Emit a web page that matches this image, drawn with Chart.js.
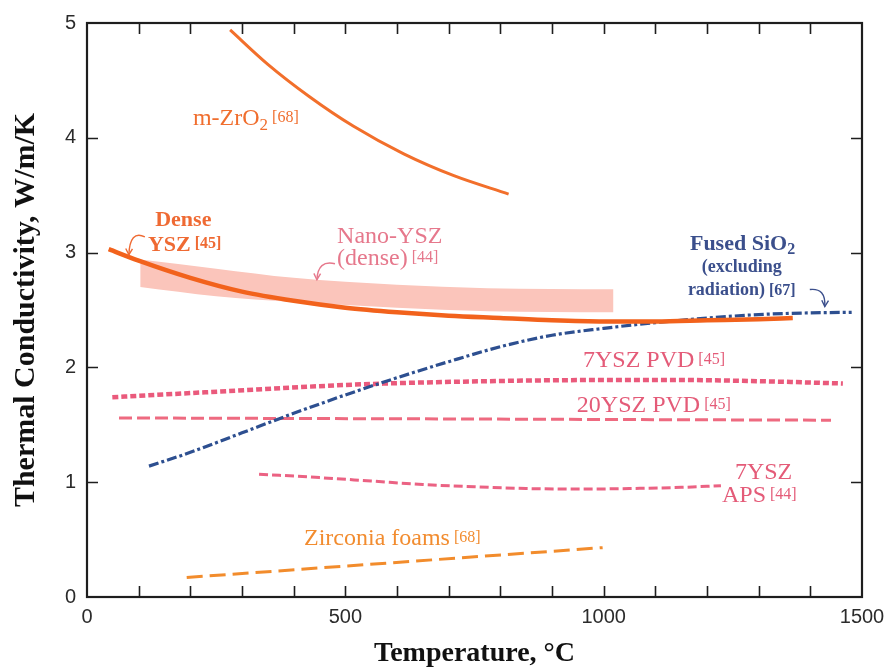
<!DOCTYPE html>
<html>
<head>
<meta charset="utf-8">
<script src="https://cdn.jsdelivr.net/npm/chart.js@4.4.0/dist/chart.umd.min.js"></script>
<style>
  html, body { margin: 0; padding: 0; background: #fff; }
</style>
</head>
<body>
<canvas id="kChart" width="893" height="671"></canvas>
<script>
// Temperature (°C) / thermal conductivity (W/m/K) per material
const mZrO2T = [277, 350, 430, 516, 613, 710, 816];
const mZrO2K = [4.94, 4.64, 4.36, 4.10, 3.86, 3.67, 3.51];

const denseYszT = [42, 100, 200, 300, 400, 500, 600, 700, 800, 900, 1000, 1100, 1200, 1300, 1366];
const denseYszK = [3.03, 2.93, 2.78, 2.66, 2.58, 2.52, 2.48, 2.45, 2.43, 2.41, 2.40, 2.40, 2.41, 2.42, 2.43];

const nanoYszT = [103, 250, 400, 600, 775, 1019];
const nanoYszHi = [2.94, 2.86, 2.78, 2.72, 2.69, 2.68];
const nanoYszLo = [2.70, 2.62, 2.57, 2.52, 2.49, 2.48];

const sio2T = [120, 200, 300, 400, 500, 600, 700, 800, 900, 1000, 1100, 1200, 1300, 1400, 1480];
const sio2K = [1.14, 1.26, 1.43, 1.60, 1.76, 1.91, 2.05, 2.18, 2.28, 2.34, 2.39, 2.43, 2.46, 2.475, 2.48];

const pvd7T = [49, 258, 517, 775, 1000, 1150, 1300, 1463];
const pvd7K = [1.74, 1.79, 1.85, 1.88, 1.89, 1.89, 1.88, 1.86];

const pvd20T = [62, 400, 775, 1100, 1440];
const pvd20K = [1.56, 1.555, 1.55, 1.545, 1.54];

const apsT = [333, 450, 550, 650, 750, 850, 950, 1050, 1150, 1227];
const apsK = [1.07, 1.04, 1.01, 0.98, 0.96, 0.945, 0.94, 0.945, 0.955, 0.97];

const foamT = [193, 998];
const foamK = [0.17, 0.43];

// axis ranges and tick spacing
const tempRange = [0, 1500];
const kRange = [0, 5];
const tempLabelStep = 500;
const tempTickStep = 100;
const kTickStep = 1;

const pts = (xs, ys) => xs.map((t, i) => ({ x: t, y: ys[i] }));

const SERIF = '"Liberation Serif", "Times New Roman", serif';
const SANS = '"Liberation Sans", Arial, sans-serif';

// box frame with inward ticks on all four sides
const frameTicks = {
  id: 'frameTicks',
  afterDraw(chart) {
    const { ctx, chartArea: a, scales: { x, y } } = chart;
    ctx.save();
    ctx.strokeStyle = '#1e1e1e';
    ctx.lineWidth = 1.6;
    ctx.beginPath();
    for (let t = tempRange[0] + tempTickStep; t < tempRange[1]; t += tempTickStep) {
      const px = Math.round(x.getPixelForValue(t)) + 0.5;
      ctx.moveTo(px, a.bottom); ctx.lineTo(px, a.bottom - 11);
      ctx.moveTo(px, a.top); ctx.lineTo(px, a.top + 11);
    }
    for (let k = kRange[0] + kTickStep; k < kRange[1]; k += kTickStep) {
      const py = Math.round(y.getPixelForValue(k)) + 0.5;
      ctx.moveTo(a.left, py); ctx.lineTo(a.left + 11, py);
      ctx.moveTo(a.right, py); ctx.lineTo(a.right - 11, py);
    }
    ctx.stroke();
    ctx.lineWidth = 2.2;
    ctx.strokeRect(a.left, a.top, a.right - a.left, a.bottom - a.top);
    ctx.restore();
  }
};

// text runs: main text, subscripts and bracketed references
const f = (size, bold) => (bold ? 'bold ' : '') + size + 'px ' + SERIF;
const notes = [
  { x: 205, y: 4.11, color: '#f06e2e', runs: [
    { t: 'm-ZrO', font: f(24) }, { t: '2', font: f(17), dy: 5 }, { t: ' [68]', font: f(16), dy: -3 }] },
  { x: 132, y: 3.23, color: '#ef6a33', runs: [{ t: 'Dense', font: f(22, true) }] },
  { x: 118, y: 3.01, color: '#ef6a33', runs: [
    { t: 'YSZ', font: f(22, true) }, { t: ' [45]', font: f(16, true), dy: -3 }] },
  { x: 484, y: 3.08, color: '#e6788c', runs: [{ t: 'Nano-YSZ', font: f(24) }] },
  { x: 484, y: 2.89, color: '#e6788c', runs: [
    { t: '(dense)', font: f(24) }, { t: ' [44]', font: f(16), dy: -3 }] },
  { x: 1167, y: 3.02, color: '#3b4f8c', runs: [
    { t: 'Fused SiO', font: f(22, true) }, { t: '2', font: f(16, true), dy: 4 }] },
  { x: 1190, y: 2.83, color: '#3b4f8c', runs: [{ t: '(excluding', font: f(18, true) }] },
  { x: 1163, y: 2.63, color: '#3b4f8c', runs: [
    { t: 'radiation)', font: f(18, true) }, { t: ' [67]', font: f(16, true) }] },
  { x: 960, y: 2.00, color: '#e45b78', runs: [
    { t: '7YSZ PVD', font: f(24) }, { t: ' [45]', font: f(16), dy: -3 }] },
  { x: 948, y: 1.61, color: '#e45b78', runs: [
    { t: '20YSZ PVD', font: f(24) }, { t: ' [45]', font: f(16), dy: -3 }] },
  { x: 1254, y: 1.03, color: '#e45b78', runs: [{ t: '7YSZ', font: f(24) }] },
  { x: 1229, y: 0.83, color: '#e45b78', runs: [
    { t: 'APS', font: f(24) }, { t: ' [44]', font: f(16), dy: -3 }] },
  { x: 420, y: 0.45, color: '#f28c2f', runs: [
    { t: 'Zirconia foams', font: f(24) }, { t: ' [68]', font: f(16), dy: -3 }] }
];

const arrows = [
  { from: [112, 3.137], ctrl: [83, 3.20], to: [81, 2.981], color: '#ef6a33' },
  { from: [480, 2.903], ctrl: [447, 2.94], to: [445, 2.764], color: '#e6788c' },
  { from: [1399, 2.678], ctrl: [1430, 2.695], to: [1428, 2.53], color: '#3b4f8c' }
];

const annotations = {
  id: 'annotations',
  afterDatasetsDraw(chart) {
    const { ctx, scales: { x, y } } = chart;
    ctx.save();
    ctx.textAlign = 'left';
    ctx.textBaseline = 'alphabetic';
    notes.forEach(n => {
      let cx = x.getPixelForValue(n.x);
      const cy = y.getPixelForValue(n.y);
      ctx.fillStyle = n.color;
      n.runs.forEach(r => {
        ctx.font = r.font;
        ctx.fillText(r.t, cx, cy + (r.dy || 0));
        cx += ctx.measureText(r.t).width;
      });
    });
    arrows.forEach(a => {
      const p0 = { x: x.getPixelForValue(a.from[0]), y: y.getPixelForValue(a.from[1]) };
      const c = { x: x.getPixelForValue(a.ctrl[0]), y: y.getPixelForValue(a.ctrl[1]) };
      const p1 = { x: x.getPixelForValue(a.to[0]), y: y.getPixelForValue(a.to[1]) };
      ctx.strokeStyle = a.color;
      ctx.lineWidth = 1.4;
      ctx.beginPath();
      ctx.moveTo(p0.x, p0.y);
      ctx.quadraticCurveTo(c.x, c.y, p1.x, p1.y);
      ctx.stroke();
      const ang = Math.atan2(p1.y - c.y, p1.x - c.x);
      const L = 7;
      ctx.beginPath();
      ctx.moveTo(p1.x - L * Math.cos(ang - 0.5), p1.y - L * Math.sin(ang - 0.5));
      ctx.lineTo(p1.x, p1.y);
      ctx.lineTo(p1.x - L * Math.cos(ang + 0.5), p1.y - L * Math.sin(ang + 0.5));
      ctx.stroke();
    });
    ctx.restore();
  }
};

const line = (data, color, width, dash) => ({
  data, borderColor: color, borderWidth: width, borderDash: dash || [],
  pointRadius: 0, fill: false, borderCapStyle: 'butt'
});

new Chart(document.getElementById('kChart'), {
  type: 'line',
  data: {
    datasets: [
      line(pts(denseYszT, denseYszK), '#f2621c', 4.5),
      line(pts(mZrO2T, mZrO2K), '#f26f2b', 3),
      line(pts(sio2T, sio2K), '#2d4f90', 3.2, [10, 3, 3, 3]),
      line(pts(pvd7T, pvd7K), '#ea5a7c', 4.5, [6, 3]),
      line(pts(pvd20T, pvd20K), '#ee6a80', 3, [13, 5]),
      line(pts(apsT, apsK), '#eb6283', 3, [9, 4]),
      line(pts(foamT, foamK), '#f28c2c', 3, [16, 7]),
      // Nano-YSZ band: upper edge filled down to the lower edge
      { data: pts(nanoYszT, nanoYszHi), borderWidth: 0, pointRadius: 0, fill: '+1', backgroundColor: '#fbc5bb' },
      { data: pts(nanoYszT, nanoYszLo), borderWidth: 0, pointRadius: 0, fill: false }
    ]
  },
  options: {
    responsive: false,
    animation: false,
    devicePixelRatio: 1,
    layout: { padding: { left: 0, right: 31, top: 20, bottom: 0 } },
    elements: { line: { tension: 0.4, cubicInterpolationMode: 'monotone' } },
    plugins: { legend: { display: false }, tooltip: { enabled: false } },
    scales: {
      x: {
        type: 'linear', min: tempRange[0], max: tempRange[1],
        grid: { display: false, drawTicks: false },
        border: { display: false },
        ticks: { stepSize: tempLabelStep, padding: 8, maxRotation: 0, autoSkip: false,
                 color: '#2b2b2b', font: { family: SANS, size: 20 },
                 callback: v => String(v) },
        title: { display: true, text: 'Temperature, °C', color: '#111',
                 font: { family: SERIF, size: 28, weight: 'bold' }, padding: { top: 0, bottom: 0 } },
        afterFit(s) { s.height = 74; }
      },
      y: {
        min: kRange[0], max: kRange[1],
        grid: { display: false, drawTicks: false },
        border: { display: false },
        ticks: { stepSize: kTickStep, padding: 11, color: '#2b2b2b', font: { family: SANS, size: 20 } },
        title: { display: true, text: 'Thermal Conductivity, W/m/K', color: '#111',
                 font: { family: SERIF, size: 30, weight: 'bold' }, padding: { top: 8, bottom: 0 } },
        afterFit(s) { s.width = 87; }
      }
    }
  },
  plugins: [frameTicks, annotations]
});
</script>
</body>
</html>
